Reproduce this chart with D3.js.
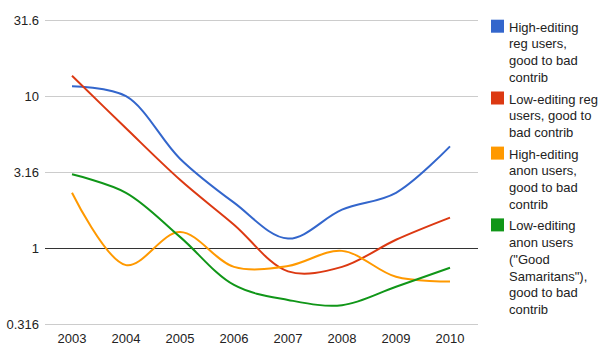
<!DOCTYPE html>
<html>
<head>
<meta charset="utf-8">
<script src="https://cdn.jsdelivr.net/npm/d3@7"></script>
<style>
  body { margin: 0; background: #fff; }
  text { font-family: "Liberation Sans", Arial, sans-serif; }
</style>
</head>
<body>
<div id="chart"></div>
<script>
// years on the x axis
var years = [2003, 2004, 2005, 2006, 2007, 2008, 2009, 2010];

// ratios, good to bad contributions (log scale)
var highReg  = [11.5, 9.9, 3.85, 1.98, 1.15, 1.78, 2.30, 4.64];
var lowReg   = [13.5, 6.1, 2.8, 1.42, 0.70, 0.75, 1.13, 1.58];
var highAnon = [2.30, 0.77, 1.27, 0.75, 0.76, 0.955, 0.645, 0.60];
var lowAnon  = [3.04, 2.3, 1.18, 0.57, 0.455, 0.42, 0.555, 0.74];

var yTicks = [0.316, 1, 3.16, 10, 31.6];

var seriesNames = [
  "High-editing reg users, good to bad contrib",
  "Low-editing reg users, good to bad contrib",
  "High-editing anon users, good to bad contrib",
  "Low-editing anon users (\"Good Samaritans\"), good to bad contrib"
];
var seriesColors = ["#3366cc", "#dc3912", "#ff9900", "#109618"];
var seriesData = [highReg, lowReg, highAnon, lowAnon];

var svgWidth = 603;
var svgHeight = 361;

var svg = d3.select("#chart")
  .append("svg")
  .attr("width", svgWidth)
  .attr("height", svgHeight);

var gridLeft = 45, gridRight = 478;

var xScale = d3.scalePoint()
  .domain(years)
  .range([72, 450]);

var yScale = d3.scaleLog()
  .domain([0.316, 31.6])
  .range([324, 19.5]);

// gridlines
svg.append("g")
  .selectAll("line")
  .data(yTicks)
  .enter()
  .append("line")
  .attr("x1", gridLeft)
  .attr("x2", gridRight)
  .attr("y1", d => Math.round(yScale(d)) + 0.5)
  .attr("y2", d => Math.round(yScale(d)) + 0.5)
  .attr("stroke", d => d === 1 ? "#333" : "#ccc")
  .attr("stroke-width", 1);

// y labels
svg.append("g")
  .selectAll("text")
  .data(yTicks)
  .enter()
  .append("text")
  .attr("x", 39)
  .attr("y", d => yScale(d) + 5)
  .attr("text-anchor", "end")
  .attr("font-size", "13px")
  .attr("fill", "#222")
  .text(d => d);

// x labels
svg.append("g")
  .selectAll("text")
  .data(years)
  .enter()
  .append("text")
  .attr("x", d => xScale(d))
  .attr("y", 343)
  .attr("text-anchor", "middle")
  .attr("font-size", "13px")
  .attr("fill", "#222")
  .text(d => d);

var line = d3.line()
  .x((d, i) => xScale(years[i]))
  .y(d => yScale(d))
  .curve(d3.curveCatmullRom.alpha(0.5));

svg.append("g")
  .selectAll("path")
  .data(seriesData)
  .enter()
  .append("path")
  .attr("d", d => line(d))
  .attr("fill", "none")
  .attr("stroke", (d, i) => seriesColors[i])
  .attr("stroke-width", 2);

// legend
var legend = svg.append("g");
var lineH = 16.7;
var yPos = 26.7;
seriesNames.forEach(function(name, i) {
  legend.append("rect")
    .attr("x", 491)
    .attr("y", yPos - 7)
    .attr("width", 13)
    .attr("height", 13)
    .attr("fill", seriesColors[i]);

  var words = name.split(" ");
  var lines = [];
  var cur = "";
  var probe = legend.append("text").attr("font-size", "13px");
  words.forEach(function(w) {
    var test = cur ? cur + " " + w : w;
    probe.text(test);
    if (cur && probe.node().getComputedTextLength() > 90) {
      lines.push(cur);
      cur = w;
    } else {
      cur = test;
    }
  });
  lines.push(cur);
  probe.remove();

  lines.forEach(function(l, j) {
    legend.append("text")
      .attr("x", 509)
      .attr("y", yPos + j * lineH + 5)
      .attr("font-size", "13px")
      .attr("fill", "#222")
      .text(l);
  });
  yPos += lines.length * lineH + 5;
});
</script>
</body>
</html>
